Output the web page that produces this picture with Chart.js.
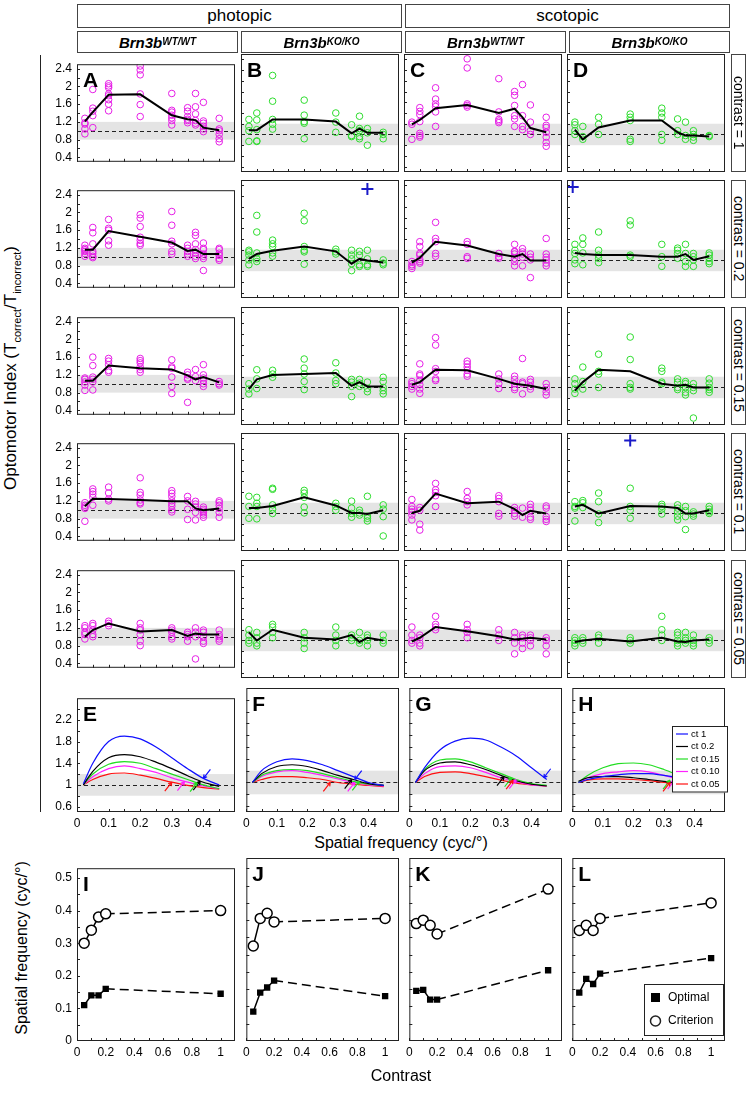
<!DOCTYPE html>
<html><head><meta charset="utf-8">
<script src="https://cdn.jsdelivr.net/npm/chart.js"></script>
<style>
body{margin:0;background:#fff;}
#root{position:relative;width:749px;height:1100px;overflow:hidden;font-family:'Liberation Sans',Arial,Helvetica,sans-serif;color:#000;background:#fff}
.box{position:absolute;border:1px solid #444;box-sizing:border-box;display:flex;align-items:center;justify-content:center;background:#fff;white-space:nowrap}
.hdr{font-size:17px}
.sub{font-size:15px;font-style:italic;font-weight:bold}
.sub sup{font-size:10px;position:relative;top:-1px}
.ct{writing-mode:vertical-rl;font-size:14px}
.lbl{position:absolute;white-space:nowrap;font-size:16px;transform:translate(-50%,-50%)}
.rot{transform:translate(-50%,-50%) rotate(-90deg)}
canvas{position:absolute}
</style></head>
<body><div id="root"></div>
<script>
// ---------------- DATA ----------------
const freqs = [0.025, 0.05, 0.1, 0.2, 0.3, 0.35, 0.375, 0.4, 0.45];
const yTickLabels = [0.4, 0.8, 1.2, 1.6, 2.0, 2.4];
const yTickMarks = [0.4, 0.6, 0.8, 1.0, 1.2, 1.4, 1.6, 1.8, 2.0, 2.2, 2.4];
const xTickMarks = [0, 0.05, 0.1, 0.15, 0.2, 0.25, 0.3, 0.35, 0.4, 0.45];
const rowContrasts = ['contrast = 1', 'contrast = 0.2', 'contrast = 0.15', 'contrast = 0.1', 'contrast = 0.05'];

// contrast = 1
const ptsA1 = [[1.28,1.18,1.15,1.04,0.93],[1.93,1.51,1.44,1.34,1.07],[2.06,2.01,1.97,1.83,1.79,1.70,1.60,1.45],[2.46,2.37,2.26,1.83,1.59,1.32],[1.84,1.46,1.42,1.35,1.29,1.23,1.13],[1.52,1.44,1.32,1.26,1.23,1.18],[1.84,1.54,1.38,1.23,1.17,1.13],[1.64,1.22,1.17,1.10,1.04,0.98],[1.28,1.04,1.0,0.92,0.82,0.75]];
const meanA1 = [1.21,1.42,1.81,1.82,1.35,1.26,1.24,1.07,1.01];
const ptsB1 = [[1.28,1.15,1.07,0.87],[1.40,1.27,1.09,0.88,0.87],[2.10,1.62,1.28,1.19,1.10],[1.64,1.36,1.24,1.21,0.92],[1.40,1.23,1.04],[1.18,0.98,0.96],[1.34,1.11,1.07,0.96,0.92],[1.11,1.03,0.80],[1.04,1.0,0.92]];
const meanB1 = [1.08,1.08,1.28,1.28,1.24,1.02,1.11,1.03,1.03];
const ptsC1 = [[1.23,1.19,0.91],[1.50,1.43,1.37,1.24,1.02,0.98,0.95],[1.87,1.66,1.57,1.52,1.42,1.15],[2.41,2.24,1.57,1.54,1.51],[2.04,1.42,1.28,1.25,1.22],[1.80,1.73,1.54,1.35,1.29,1.15],[1.93,1.35,1.15,1.09],[1.55,1.23,1.07,1.0],[1.32,1.17,1.13,1.04,0.95,0.85,0.78]];
const meanC1 = [1.19,1.27,1.49,1.55,1.40,1.48,1.32,1.12,1.04];
const ptsD1 = [[1.23,1.18,1.07,1.0],[1.15,0.96,0.91],[1.32,1.19,1.0],[1.38,1.32,1.26,0.91,0.87],[1.49,1.40,1.32,1.0,0.89],[1.29,1.07,1.0],[1.23,0.98,0.91],[1.07,1.0,0.95,0.89],[0.98,0.96]];
const meanD1 = [1.09,0.91,1.13,1.26,1.26,1.04,0.98,0.98,0.96];
// contrast = 0.2
const ptsA2 = [[1.26,1.19,1.16,1.12,1.07,1.01],[1.66,1.54,1.29,1.12,1.07,1.01,0.98],[1.84,1.64,1.60,1.36,1.26],[1.95,1.87,1.68,1.44,1.37,1.30,1.26],[2.02,1.71,1.35,1.29,1.12,1.06],[1.26,1.19,1.12,1.06,1.01],[1.55,1.48,1.29,1.16,1.08,1.01,0.96],[1.31,1.19,1.16,1.06,1.01,0.96,0.69],[1.19,1.16,1.08,1.03,0.96,0.92]];
const meanA2 = [1.16,1.16,1.58,1.45,1.32,1.13,1.16,1.06,1.06];
const ptsB2 = [[1.19,1.16,1.10,1.01,0.92],[1.84,1.53,1.14,1.03,0.98],[1.38,1.31,1.26,1.14,1.08],[1.88,1.74,1.26,1.19,1.16,0.93],[1.21,1.16,1.12],[1.19,1.10,1.03,0.94,0.81],[1.17,1.10,0.92,0.89],[1.19,1.03,0.92,0.89],[1.01,0.95,0.92]];
const meanB2 = [1.03,1.12,1.18,1.26,1.17,0.94,1.03,1.0,0.96];
const crossB2 = [0.4, 2.33];
const ptsC2 = [[0.98,0.92,0.89,0.85],[1.35,1.26,1.13,1.10,1.02,0.98,0.95],[1.71,1.41,1.35,1.13,1.08],[1.35,1.30,1.07,1.04],[1.13,1.07,1.04],[1.30,1.17,1.16,1.12,1.04,0.98,0.90],[1.22,1.16,1.12,1.06,0.90],[1.12,1.06,1.01,0.68],[1.41,1.12,1.06,1.01,0.95,0.90]];
const meanC2 = [0.96,1.05,1.35,1.28,1.12,1.07,1.12,1.0,1.0];
const ptsD2 = [[1.30,1.19,1.13,1.01,0.94],[1.42,1.30,1.14,0.92],[1.53,1.19,1.10,1.04,0.96],[1.74,1.66,1.10,1.07],[1.30,1.07,0.89],[1.23,1.19,1.13,1.04],[1.30,1.13,0.98,0.89],[1.13,1.07,1.01,0.89],[1.14,1.10,1.04,0.98,0.94]];
const meanD2 = [1.14,1.12,1.10,1.10,1.07,1.07,1.12,1.01,1.08];
const crossD2 = [0.018, 2.37];
// contrast = 0.15
const ptsA3 = [[1.13,1.10,1.04,0.97,0.85],[1.60,1.41,1.15,1.10,1.04,0.86],[1.57,1.51,1.43,1.30,1.26],[1.57,1.52,1.47,1.38,1.32,1.26],[1.54,1.38,1.35,1.15,0.94,0.78],[1.26,1.20,1.13,1.10,0.58],[1.32,1.16,1.07],[1.43,1.20,1.13,1.07,1.0,0.94],[1.05,1.0,0.97]];
const meanA3 = [1.07,1.07,1.41,1.35,1.32,1.19,1.10,1.15,1.03];
const ptsB3 = [[1.07,0.97,0.88],[1.33,1.16,0.98],[1.32,1.25,1.19],[1.53,1.36,1.25,1.11,0.96],[1.46,1.27,1.13,1.07],[1.15,1.10,1.02,0.83],[1.15,1.08,1.02],[1.10,0.98,0.92],[1.19,1.11,1.0,0.94,0.88]];
const meanB3 = [0.97,1.15,1.23,1.25,1.27,1.03,1.10,1.02,1.02];
const ptsC3 = [[1.11,1.07,1.02,0.97],[1.44,1.25,1.22,1.13,1.05,0.97,0.89],[1.93,1.79,1.35,1.30,1.16,1.13],[1.49,1.44,1.38,1.32,1.25,1.21],[1.25,1.16,1.07,0.98],[1.21,1.15,1.07,1.0,0.96],[1.54,1.10,1.07,0.88],[1.15,1.10,1.02,0.97],[1.07,1.0,0.92,0.86]];
const meanC3 = [1.05,1.10,1.33,1.32,1.16,1.07,1.05,1.03,0.97];
const ptsD3 = [[1.16,1.07,0.97,0.89],[1.38,1.11,0.97],[1.62,1.30,1.25,1.0],[1.94,1.52,1.07,1.0,0.97],[1.36,1.30,1.10,1.07],[1.16,1.10,1.0,0.96],[1.11,1.07,1.0,0.91,0.86],[1.07,1.0,0.94,0.43],[1.16,1.08,1.0,0.96,0.91]];
const meanD3 = [0.94,1.10,1.33,1.30,1.07,1.03,1.05,1.0,1.0];
// contrast = 0.1
const ptsA4 = [[1.16,1.10,1.06,1.03,0.74],[1.47,1.41,1.35,1.28,1.10],[1.51,1.38,1.24,1.20],[1.72,1.39,1.33,1.22,1.16,1.13],[1.43,1.37,1.30,1.20,1.14,1.08,1.0,0.95],[1.30,1.20,1.01,0.78],[1.19,1.13,1.06,0.94,0.77],[1.06,1.01,0.97,0.93,0.88,0.83],[1.20,1.16,1.10,1.03,0.94,0.83]];
const meanA4 = [1.08,1.25,1.24,1.22,1.19,1.19,1.03,0.99,1.03];
const ptsB4 = [[1.32,1.13,0.91],[1.30,1.19,1.13,0.90],[1.47,1.45,1.16,1.08,1.0],[1.43,1.38,1.30,1.12,1.01],[1.19,1.13,1.06],[1.23,1.10,1.0,0.93],[1.06,1.01,0.97],[1.32,0.95,0.91,0.86],[1.16,1.08,0.94,0.58]];
const meanB4 = [1.10,1.10,1.14,1.30,1.15,1.01,1.01,0.99,1.06];
const ptsC4 = [[1.26,1.13,1.08,1.03,0.97,0.88],[1.11,1.06,0.80,0.69],[1.56,1.44,1.39,1.33,1.13],[1.41,1.28,1.22,1.16],[1.33,1.28,1.22,1.0,0.95],[1.11,1.06,1.0,0.95],[1.10,0.93],[1.17,1.11,1.06,0.93,0.89],[1.14,1.10,0.94,0.89,0.85]];
const meanC4 = [1.01,1.05,1.37,1.19,1.22,1.08,0.97,1.05,1.0];
const ptsD4 = [[1.22,1.13,1.10,0.86],[1.24,1.20,1.11],[1.38,1.22,0.99,0.83],[1.47,1.13,1.06,0.91],[1.17,1.13,1.08,0.99],[1.16,1.10,1.03,0.95,0.88],[1.13,1.05,0.94,0.70],[1.03,0.99,0.95],[1.13,1.08,1.03,1.0]];
const meanD4 = [1.13,1.16,1.0,1.14,1.13,1.10,1.0,1.0,1.06];
const crossD4 = [0.2, 2.36];
// contrast = 0.05
const ptsA5 = [[1.25,1.2,1.1,1.05,0.95],[1.3,1.25,1.15,1.05,1.0],[1.35,1.3,1.25],[1.3,1.2,1.15,1.05,0.9,0.8],[1.2,1.15,1.1,1.0,0.95],[1.1,1.05,1.0,0.9],[1.2,1.1,1.0,0.5],[1.15,1.1,1.0,0.9,0.85],[1.15,1.05,1.0,0.95,0.9]];
const meanA5 = [1.0,1.15,1.3,1.12,1.15,1.02,1.07,1.05,1.05];
const ptsB5 = [[1.2,1.1,1.0,0.95],[1.15,1.05,0.95,0.9],[1.3,1.25,1.15,1.05],[1.15,1.05,0.95,0.85],[1.25,1.1,1.0,0.9],[1.1,1.05,1.0],[1.15,1.0,0.95],[1.1,1.05,1.0,0.9],[1.1,1.0,0.95]];
const meanB5 = [1.15,1.0,1.2,1.05,1.02,1.1,0.97,1.05,1.0];
const ptsC5 = [[1.25,1.1,1.0,0.95],[1.1,1.05,0.95,0.9],[1.45,1.3,1.25,1.2],[1.3,1.2,1.15,1.05],[1.2,1.1,1.0],[1.15,1.05,0.95,0.75],[1.1,1.05,0.95,0.85],[1.1,1.05,1.0,0.9],[1.05,1.0,0.9,0.75]];
const meanC5 = [0.98,1.05,1.25,1.17,1.08,1.02,1.03,1.05,1.02];
const ptsD5 = [[1.05,1.0,0.95,0.9],[1.05,1.0,0.95],[1.1,1.05,0.95],[1.05,1.0,0.95],[1.45,1.2,1.1,1.0],[1.15,1.1,1.0,0.95,0.9],[1.15,1.05,1.0,0.95],[1.1,1.0,0.95,0.9],[1.05,1.0,0.95]];
const meanD5 = [0.97,1.0,1.03,0.98,1.05,0.98,0.97,1.0,1.02];

// fitted tuning curves (E-H)
const curveX = [0.02, 0.05, 0.1, 0.15, 0.2, 0.25, 0.3, 0.35, 0.4, 0.45];
const curveLabels = ['ct 1', 'ct 0.2', 'ct 0.15', 'ct 0.10', 'ct 0.05'];
const curveColors = ['#1010ff', '#000000', '#22dd22', '#ff22ff', '#ff1010'];
const curvesE = [[1.02,1.4,1.8,1.9,1.85,1.7,1.5,1.3,1.12,1.0],[1.0,1.25,1.5,1.56,1.52,1.42,1.3,1.17,1.05,0.97],[1.0,1.2,1.38,1.43,1.4,1.3,1.2,1.1,1.0,0.93],[1.0,1.15,1.3,1.35,1.3,1.23,1.13,1.05,0.98,0.93],[1.0,1.1,1.2,1.22,1.18,1.12,1.05,0.99,0.95,0.92]];
const curvesF = [[1.0,1.2,1.35,1.4,1.37,1.3,1.2,1.1,1.0,0.95],[1.0,1.15,1.27,1.3,1.27,1.2,1.12,1.05,0.98,0.95],[1.0,1.12,1.2,1.22,1.2,1.15,1.08,1.02,0.97,0.95],[1.0,1.1,1.18,1.2,1.17,1.12,1.06,1.0,0.96,0.94],[1.0,1.05,1.1,1.1,1.08,1.05,1.0,0.97,0.95,0.93]];
const curvesG = [[1.0,1.25,1.55,1.7,1.75,1.72,1.6,1.45,1.25,1.05],[1.0,1.2,1.33,1.35,1.3,1.22,1.12,1.03,0.97,0.94],[1.0,1.22,1.38,1.4,1.35,1.25,1.15,1.05,0.98,0.95],[1.0,1.15,1.27,1.28,1.25,1.17,1.08,1.01,0.96,0.94],[1.0,1.1,1.17,1.18,1.15,1.1,1.04,0.99,0.96,0.94]];
const curvesH = [[1.0,1.05,1.1,1.13,1.15,1.15,1.12,1.08,1.02,0.97],[1.02,1.08,1.1,1.1,1.08,1.05,1.02,0.99,0.97,0.96],[1.0,1.12,1.25,1.32,1.33,1.3,1.22,1.12,1.02,0.95],[1.0,1.08,1.15,1.18,1.2,1.18,1.12,1.05,0.99,0.95],[1.0,1.04,1.06,1.06,1.05,1.03,1.0,0.98,0.96,0.95]];
// arrow tip heights at criterion frequency (ct 1, 0.2, 0.15, 0.10, 0.05)
const arrowYE = [1.12,1.07,1.04,1.06,1.05];
const arrowYF = [1.05,1.05,1.02,1.0,1.0];
const arrowYG = [1.08,1.1,1.08,1.05,1.04];
const arrowYH = [1.04,1.0,1.04,1.04,1.0];
const arrowDir = [-1, 1, 1, 1, 1];

// optimal / criterion frequency vs contrast (I-L)
const contrasts = [0.05, 0.1, 0.15, 0.2, 1];
const optI = [0.11, 0.14, 0.14, 0.16, 0.145];
const critI = [0.30, 0.34, 0.38, 0.39, 0.40];
const optJ = [0.085, 0.14, 0.155, 0.175, 0.13];
const critJ = [0.275, 0.355, 0.37, 0.345, 0.355];
const optK = [0.145, 0.148, 0.12, 0.12, 0.205];
const critK = [0.34, 0.35, 0.335, 0.31, 0.44];
const optL = [0.14, 0.18, 0.165, 0.195, 0.24];
const critL = [0.32, 0.335, 0.32, 0.355, 0.40];

// ---------------- LAYOUT ----------------
const FONT = "'Liberation Sans', Arial, Helvetica, sans-serif";
Chart.defaults.font.family = FONT;
Chart.defaults.color = '#000';
Chart.defaults.animation = false;
const root = document.getElementById('root');
const colLeft = [77, 241, 404, 567];
const colW = 158;
const rowTop = [54, 180, 307, 433, 560];
const rowH = 118;
const fmt = v => String(Math.round(v * 100) / 100);

const framePlugin = {
  id: 'frame',
  beforeDatasetsDraw(chart, args, o) {
    const {ctx, chartArea: a, scales: {x, y}} = chart;
    ctx.save();
    if (o.band) {
      const t = y.getPixelForValue(o.band[1]), b = y.getPixelForValue(o.band[0]);
      ctx.fillStyle = '#e4e4e4';
      ctx.fillRect(a.left, t, a.right - a.left, b - t);
    }
    if (o.ref != null) {
      const py = Math.round(y.getPixelForValue(o.ref)) + 0.5;
      ctx.strokeStyle = '#222'; ctx.lineWidth = 1; ctx.setLineDash([4, 3]);
      ctx.beginPath(); ctx.moveTo(a.left, py); ctx.lineTo(a.right, py); ctx.stroke();
    }
    ctx.restore();
  },
  afterDatasetsDraw(chart, args, o) {
    const {ctx, chartArea: a, scales: {x, y}} = chart;
    ctx.save();
    if (o.arrows) {
      o.arrows.forEach(ar => {
        const px = x.getPixelForValue(ar.x), py = y.getPixelForValue(ar.y);
        const d = ar.dir;
        const tx = px - d * 7, ty = py + d * 9;
        ctx.strokeStyle = ar.color; ctx.lineWidth = 1.2;
        ctx.beginPath(); ctx.moveTo(tx, ty); ctx.lineTo(px, py);
        const ang = Math.atan2(py - ty, px - tx);
        ctx.moveTo(px, py); ctx.lineTo(px - 4 * Math.cos(ang - 0.5), py - 4 * Math.sin(ang - 0.5));
        ctx.moveTo(px, py); ctx.lineTo(px - 4 * Math.cos(ang + 0.5), py - 4 * Math.sin(ang + 0.5));
        ctx.stroke();
      });
    }
    ctx.strokeStyle = '#222'; ctx.lineWidth = 1; ctx.setLineDash([]);
    ctx.strokeRect(a.left + 0.5, a.top + 0.5, a.right - a.left - 1, a.bottom - a.top - 1);
    ctx.beginPath();
    (o.xt || []).forEach(v => { const px = Math.round(x.getPixelForValue(v)) + 0.5; ctx.moveTo(px, a.bottom); ctx.lineTo(px, a.bottom - 3); });
    (o.yt || []).forEach(v => { const py = Math.round(y.getPixelForValue(v)) + 0.5; ctx.moveTo(a.left, py); ctx.lineTo(a.left + 3, py); });
    ctx.stroke();
    if (o.letter) {
      ctx.fillStyle = '#000'; ctx.font = 'bold 21px ' + FONT; ctx.textBaseline = 'top'; ctx.textAlign = 'left';
      ctx.fillText(o.letter, a.left + 6, a.top + 7);
    }
    if (o.curveLegend) {
      const items = chart.data.datasets.filter(d => d.label);
      const bw = 56, lh = 12.5, bh = items.length * lh + 4;
      const bx = a.right - bw + 3, by = a.top + 38;
      ctx.fillStyle = '#fff'; ctx.fillRect(bx, by, bw, bh);
      ctx.strokeStyle = '#222'; ctx.strokeRect(bx + 0.5, by + 0.5, bw - 1, bh - 1);
      ctx.font = '9.5px ' + FONT; ctx.textBaseline = 'middle';
      items.forEach((d, i) => {
        const yy = by + 8 + i * lh;
        ctx.strokeStyle = d.borderColor; ctx.lineWidth = 1.2;
        ctx.beginPath(); ctx.moveTo(bx + 4, yy); ctx.lineTo(bx + 16, yy); ctx.stroke();
        ctx.fillStyle = '#000'; ctx.fillText(d.label, bx + 19, yy);
      });
    }
    if (o.markLegend) {
      const bw = 80, bh = 52, bx = a.right - bw - 1, by = a.bottom - bh - 5;
      ctx.fillStyle = '#fff'; ctx.fillRect(bx, by, bw, bh);
      ctx.strokeStyle = '#222'; ctx.lineWidth = 1; ctx.strokeRect(bx + 0.5, by + 0.5, bw - 1, bh - 1);
      ctx.fillStyle = '#000'; ctx.fillRect(bx + 7, by + 9, 9, 9);
      ctx.lineWidth = 1.5; ctx.beginPath(); ctx.arc(bx + 11.5, by + 37, 5, 0, 2 * Math.PI); ctx.stroke();
      ctx.font = '12px ' + FONT; ctx.textBaseline = 'middle';
      ctx.fillText('Optimal', bx + 24, by + 14);
      ctx.fillText('Criterion', bx + 24, by + 37);
    }
    ctx.restore();
  }
};

function makePanel(box, opt) {
  const padL = opt.yLabels ? 36 : 2, padB = opt.xLabels ? 22 : 2, padT = 2, padR = 4;
  const W = box.w + padL + padR, H = box.h + padT + padB;
  const cv = document.createElement('canvas');
  cv.width = W; cv.height = H;
  cv.style.left = (box.x - padL) + 'px'; cv.style.top = (box.y - padT) + 'px';
  cv.style.width = W + 'px'; cv.style.height = H + 'px';
  root.appendChild(cv);
  const xs = {type: 'linear', min: opt.xmin, max: opt.xmax, display: true,
    grid: {display: false, drawTicks: false}, border: {display: false},
    afterBuildTicks(s) { s.ticks = opt.xLab.map(v => ({value: v})); },
    afterFit(s) { s.height = padB; },
    ticks: {display: !!opt.xLabels, autoSkip: false, maxRotation: 0, padding: 4, font: {size: 12}, callback: v => fmt(v)}};
  const ys = {type: 'linear', min: opt.ymin, max: opt.ymax, display: true,
    grid: {display: false, drawTicks: false}, border: {display: false},
    afterBuildTicks(s) { s.ticks = opt.yLab.map(v => ({value: v})); },
    afterFit(s) { s.width = padL; },
    ticks: {display: !!opt.yLabels, autoSkip: false, padding: 5, font: {size: 12}, callback: v => fmt(v)}};
  new Chart(cv, {
    type: 'scatter',
    data: {datasets: opt.datasets},
    options: {
      responsive: false, animation: false, devicePixelRatio: 1,
      layout: {autoPadding: false, padding: {top: padT, right: padR, left: 0, bottom: 0}},
      scales: {x: xs, y: ys},
      plugins: {legend: {display: false}, tooltip: {enabled: false}, frame: opt.frame}
    },
    plugins: [framePlugin]
  });
}

function scatterData(pts) {
  const out = [];
  pts.forEach((col, i) => col.forEach(v => out.push({x: freqs[i], y: v})));
  return out;
}

// ---- rows of raw data panels ----
const allPts = [[ptsA1, ptsB1, ptsC1, ptsD1], [ptsA2, ptsB2, ptsC2, ptsD2], [ptsA3, ptsB3, ptsC3, ptsD3], [ptsA4, ptsB4, ptsC4, ptsD4], [ptsA5, ptsB5, ptsC5, ptsD5]];
const allMeans = [[meanA1, meanB1, meanC1, meanD1], [meanA2, meanB2, meanC2, meanD2], [meanA3, meanB3, meanC3, meanD3], [meanA4, meanB4, meanC4, meanD4], [meanA5, meanB5, meanC5, meanD5]];
const crosses = {'1-1': crossB2, '1-3': crossD2, '3-3': crossD4};
const letters1 = ['A', 'B', 'C', 'D'];
const ptColors = ['#e61ee6', '#2edc2e', '#e61ee6', '#2edc2e'];

for (let r = 0; r < 5; r++) {
  for (let c = 0; c < 4; c++) {
    const ds = [
      {type: 'line', data: freqs.map((f, i) => ({x: f, y: allMeans[r][c][i]})), borderColor: '#000', borderWidth: 2, pointRadius: 0, tension: 0, order: 0},
      {type: 'scatter', data: scatterData(allPts[r][c]), pointRadius: 3.3, pointBorderWidth: 1, pointBorderColor: ptColors[c], pointBackgroundColor: 'rgba(0,0,0,0)', borderColor: ptColors[c], order: 2}
    ];
    const cr = crosses[r + '-' + c];
    if (cr) ds.push({type: 'scatter', data: [{x: cr[0], y: cr[1]}], pointStyle: 'cross', pointRadius: 6, pointBorderWidth: 2, pointBorderColor: '#1a1ac8', borderColor: '#1a1ac8', order: 0});
    makePanel({x: colLeft[c], y: rowTop[r], w: colW, h: rowH}, {
      yLabels: c === 0, xLabels: false, xmin: 0, xmax: 0.5, ymin: 0.3, ymax: 2.5,
      xLab: [0, 0.1, 0.2, 0.3, 0.4], yLab: yTickLabels, datasets: ds,
      frame: {band: [0.8, 1.2], ref: 1, xt: xTickMarks, yt: yTickMarks, letter: r === 0 ? letters1[c] : null}
    });
  }
}

// ---- fitted curves E-H ----
const curveSets = [curvesE, curvesF, curvesG, curvesH];
const arrowSets = [arrowYE, arrowYF, arrowYG, arrowYH];
const critSets = [critI, critJ, critK, critL];
const letters2 = ['E', 'F', 'G', 'H'];
for (let c = 0; c < 4; c++) {
  const ds = curveSets[c].map((arr, k) => ({type: 'line', label: curveLabels[k], data: curveX.map((x, i) => ({x, y: arr[i]})),
    borderColor: curveColors[k], borderWidth: 1.2, pointRadius: 0, cubicInterpolationMode: 'monotone', order: k}));
  const arrows = curveSets[c].map((arr, k) => ({x: critSets[c][4 - k], y: arrowSets[c][k], dir: arrowDir[k], color: curveColors[k]}));
  makePanel({x: colLeft[c], y: 688, w: colW, h: 124}, {
    yLabels: c === 0, xLabels: true, xmin: 0, xmax: 0.5, ymin: 0.5, ymax: 2.6,
    xLab: [0, 0.1, 0.2, 0.3, 0.4], yLab: [0.6, 1.0, 1.4, 1.8, 2.2], datasets: ds,
    frame: {band: [0.8, 1.2], ref: 1, xt: xTickMarks, yt: [0.6, 0.8, 1.0, 1.2, 1.4, 1.6, 1.8, 2.0, 2.2, 2.4], letter: letters2[c], arrows, curveLegend: c === 3}
  });
}

// ---- optimal/criterion I-L ----
const optSets = [optI, optJ, optK, optL];
const letters3 = ['I', 'J', 'K', 'L'];
const dashSeg = {borderDash: ctx => ctx.p1DataIndex === 4 ? [9, 5] : undefined};
for (let c = 0; c < 4; c++) {
  const ds = [
    {type: 'line', data: contrasts.map((x, i) => ({x, y: critSets[c][i]})), borderColor: '#000', borderWidth: 1.5,
      pointStyle: 'circle', pointRadius: 5, pointBorderWidth: 1.5, pointBorderColor: '#000', pointBackgroundColor: '#fff', segment: dashSeg},
    {type: 'line', data: contrasts.map((x, i) => ({x, y: optSets[c][i]})), borderColor: '#000', borderWidth: 1.5,
      pointStyle: 'rect', pointRadius: 4.5, pointBorderWidth: 0, pointBackgroundColor: '#000', segment: dashSeg}
  ];
  makePanel({x: colLeft[c], y: 858, w: colW, h: 183}, {
    yLabels: c === 0, xLabels: true, xmin: 0, xmax: 1.1, ymin: 0, ymax: 0.53,
    xLab: [0, 0.2, 0.4, 0.6, 0.8, 1], yLab: [0, 0.1, 0.2, 0.3, 0.4, 0.5], datasets: ds,
    frame: {xt: [0, 0.1, 0.2, 0.3, 0.4, 0.5, 0.6, 0.7, 0.8, 0.9, 1.0], yt: [0.05, 0.1, 0.15, 0.2, 0.25, 0.3, 0.35, 0.4, 0.45, 0.5], letter: letters3[c], markLegend: c === 3}
  });
}

// ---------------- HTML TEXT ----------------
function addDiv(cls, html, css) {
  const d = document.createElement('div'); d.className = cls; d.innerHTML = html; d.style.cssText = css; root.appendChild(d); return d;
}
addDiv('box hdr', 'photopic', 'left:77px;top:4px;width:325px;height:24px');
addDiv('box hdr', 'scotopic', 'left:405px;top:4px;width:325px;height:24px');
const geno = ['Brn3b<sup>WT/WT</sup>', 'Brn3b<sup>KO/KO</sup>', 'Brn3b<sup>WT/WT</sup>', 'Brn3b<sup>KO/KO</sup>'];
const subLeft = [77, 241, 405, 569];
geno.forEach((g, i) => addDiv('box sub', g, `left:${subLeft[i]}px;top:31px;width:161px;height:22px`));
rowContrasts.forEach((t, r) => addDiv('box ct', t, `left:731px;top:${rowTop[r]}px;width:15px;height:${rowH}px`));
addDiv('lbl rot', 'Optomotor Index (T<sub style="font-size:11px">correct</sub>/T<sub style="font-size:11px">incorrect</sub>)', 'left:12px;top:368px;font-size:17px');
addDiv('', '', 'position:absolute;left:40px;top:55px;width:1px;height:757px;background:#222');
addDiv('lbl', 'Spatial frequency (cyc/°)', 'left:401px;top:843px');
addDiv('lbl rot', 'Spatial frequency (cyc/°)', 'left:22px;top:948px');
addDiv('lbl', 'Contrast', 'left:401px;top:1076px');
</script>
</body></html>
